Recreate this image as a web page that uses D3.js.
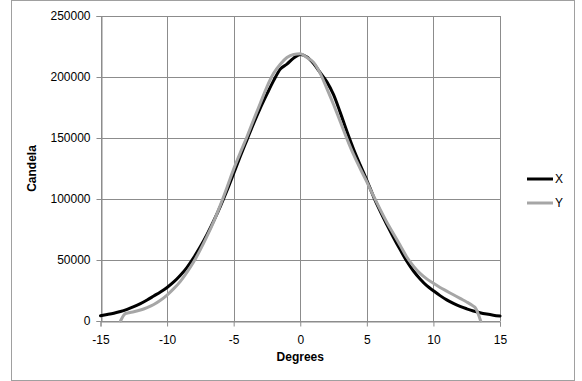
<!DOCTYPE html>
<html>
<head>
<meta charset="utf-8">
<script src="https://cdn.jsdelivr.net/npm/d3@7/dist/d3.min.js"></script>
<style>
  html, body { margin: 0; padding: 0; background: #fff; }
  svg { display: block; }
  text { font-family: "Liberation Sans", Arial, sans-serif; fill: #000; }
</style>
</head>
<body>
<svg id="chart" width="582" height="381"></svg>
<script>
// Beam profile: luminous intensity (candela) against angle (degrees)
const xAngles = [-15,-14.5,-14,-13.5,-13,-12.5,-12,-11.5,-11,-10.5,-10,-9.5,-9,-8.5,-8,-7.5,-7,-6.5,-6,-5.5,-5,-4.5,-4,-3.5,-3,-2.5,-2,-1.5,-1,-0.5,0,0.5,1,1.5,2,2.5,3,3.5,4,4.5,5,5.5,6,6.5,7,7.5,8,8.5,9,9.5,10,10.5,11,11.5,12,12.5,13,13.5,14,14.5,15];
const xCandela = [4300,5300,6400,7800,9600,11700,14200,17200,20500,23800,27500,32000,37500,44000,52000,61000,71000,82000,94000,107000,121000,135000,148500,162000,174500,186000,197000,206500,210500,215500,218500,216500,211000,203500,196000,185500,171000,155500,141000,128000,115400,102000,90000,79000,68500,58500,49000,41000,34500,29000,24800,20800,17300,14400,12000,10000,8200,6800,5700,4800,4100];

const yAngles = [-13.5,-13.2,-13,-12.5,-12,-11.5,-11,-10.5,-10,-9.5,-9,-8.5,-8,-7.5,-7,-6.5,-6,-5.5,-5,-4.5,-4,-3.5,-3,-2.5,-2,-1.5,-1,-0.5,0,0.5,1,1.5,2,2.5,3,3.5,4,4.5,5,5.5,6,6.5,7,7.5,8,8.5,9,9.5,10,10.5,11,11.5,12,12.5,13,13.12,13.55];
const yCandela = [0,5500,6500,7600,9000,11000,13500,17000,21300,26500,32500,40000,48500,58500,69500,81500,95000,109500,124500,138000,151000,165000,178500,192000,203000,210500,216000,218500,219000,216000,212000,203000,190500,177500,163500,149500,136500,125000,114100,102500,91500,81000,71500,62000,52500,45000,39000,34500,30900,27500,24500,21500,18500,15600,12200,11200,0];

const xTicks = [-15,-10,-5,0,5,10,15];
const yTicks = [0,50000,100000,150000,200000,250000];

const seriesNames = ["X","Y"];
const seriesColors = ["#000000","#a6a6a6"];

const svg = d3.select("#chart");
const gridColor = "#8c8c8c";

// outer chart frame
svg.append("rect")
  .attr("x", 11.5).attr("y", 0.5)
  .attr("width", 563).attr("height", 380)
  .attr("fill", "none").attr("stroke", "#a0a0a0").attr("stroke-width", 1);

const plot = { left: 100.5, right: 500, top: 16, bottom: 321 };

const x = d3.scaleLinear().domain([-15, 15]).range([plot.left, plot.right]);
const y = d3.scaleLinear().domain([0, 250000]).range([plot.bottom, plot.top]);

// plain hyphen-minus for negative tick labels
const fmt = d => String(d);

// gridlines
const grid = svg.append("g");
grid.selectAll("line.v").data(xTicks).join("line")
  .attr("x1", d => Math.round(x(d)) + 0.5).attr("x2", d => Math.round(x(d)) + 0.5)
  .attr("y1", plot.top).attr("y2", plot.bottom)
  .attr("stroke", gridColor).attr("stroke-width", 1);
grid.selectAll("line.h").data(yTicks).join("line")
  .attr("x1", plot.left).attr("x2", plot.right)
  .attr("y1", d => Math.round(y(d)) + 0.5).attr("y2", d => Math.round(y(d)) + 0.5)
  .attr("stroke", gridColor).attr("stroke-width", 1);

// axes
const xAxis = svg.append("g")
  .attr("transform", `translate(0,${Math.round(y(0)) + 0.5})`)
  .call(d3.axisBottom(x).tickValues(xTicks).tickSize(5).tickPadding(9).tickFormat(fmt));
const yAxis = svg.append("g")
  .attr("transform", `translate(${Math.round(x(-15)) + 0.5},0)`)
  .call(d3.axisLeft(y).tickValues(yTicks).tickSize(5).tickPadding(6).tickFormat(fmt));
[xAxis, yAxis].forEach(a => {
  a.select(".domain").attr("stroke", gridColor);
  a.selectAll(".tick line").attr("stroke", gridColor);
  a.selectAll(".tick text")
    .attr("font-family", "'Liberation Sans', Arial, sans-serif")
    .attr("font-size", 12).attr("fill", "#000");
});

// series lines
const line = d3.line()
  .x(d => x(d[0])).y(d => y(d[1]))
  .curve(d3.curveMonotoneX);

const series = [
  d3.zip(xAngles, xCandela),
  d3.zip(yAngles, yCandela)
];
svg.append("g").selectAll("path").data(series).join("path")
  .attr("d", line)
  .attr("fill", "none")
  .attr("stroke", (d, i) => seriesColors[i])
  .attr("stroke-width", 3)
  .attr("stroke-linejoin", "round")
  .attr("stroke-linecap", "round");

// axis titles
svg.append("text")
  .attr("x", x(0)).attr("y", 361)
  .attr("text-anchor", "middle")
  .attr("font-size", 12).attr("font-weight", "bold")
  .text("Degrees");
svg.append("text")
  .attr("transform", `translate(36,${(plot.top + plot.bottom) / 2}) rotate(-90)`)
  .attr("text-anchor", "middle")
  .attr("font-size", 12).attr("font-weight", "bold")
  .text("Candela");

// legend
const legend = svg.append("g");
seriesNames.forEach((name, i) => {
  const ly = 179 + i * 24;
  legend.append("line")
    .attr("x1", 527).attr("x2", 553).attr("y1", ly).attr("y2", ly)
    .attr("stroke", seriesColors[i]).attr("stroke-width", 3);
  legend.append("text")
    .attr("x", 555).attr("y", ly + 4)
    .attr("font-size", 12)
    .text(name);
});
</script>
</body>
</html>
